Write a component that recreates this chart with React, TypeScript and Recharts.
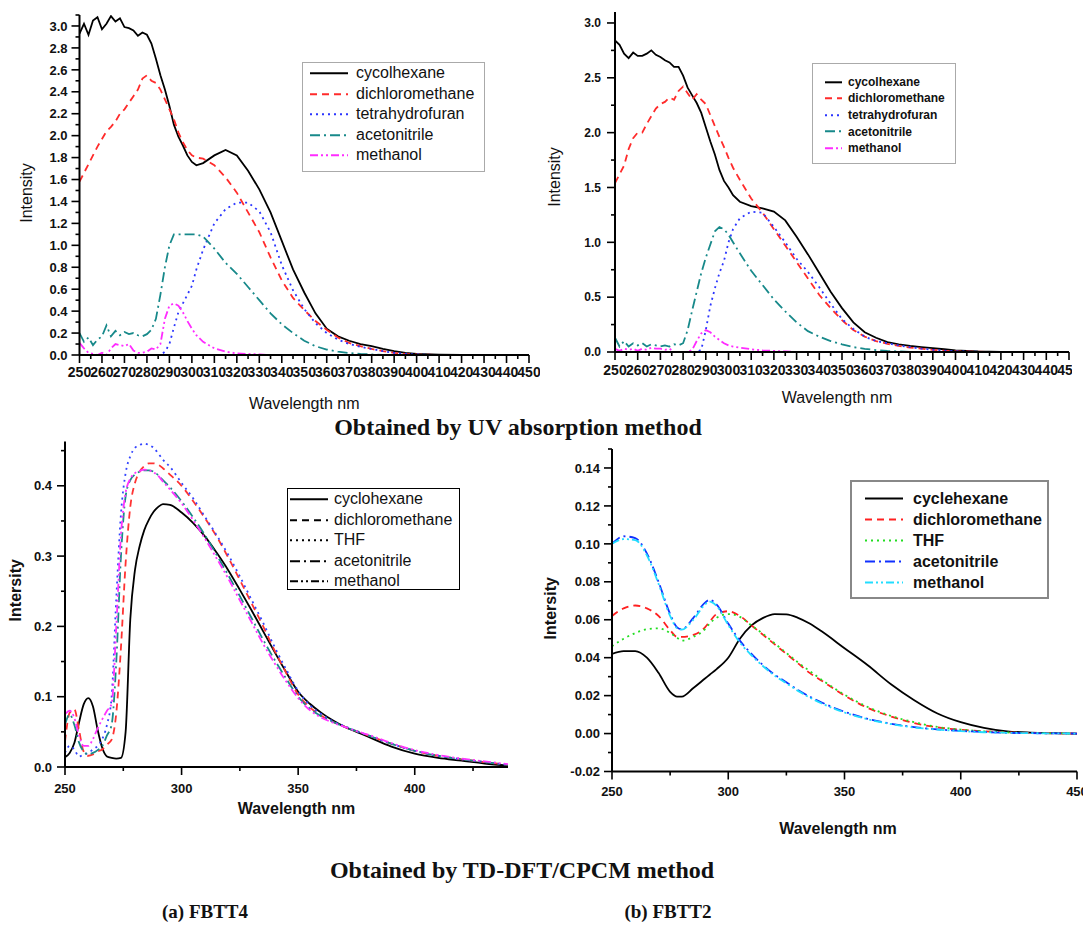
import React from "react";
import { LineChart, Line, XAxis, YAxis, Legend } from "recharts";

// ---------- UV absorption, FBTT4 (top left) ----------
const wlA = [250, 252, 254, 256, 258, 260, 262, 264, 266, 268, 270, 272, 274, 276, 278, 280, 282, 284, 286, 288, 290, 292, 294, 296, 298, 300, 302,
  305, 310, 315, 320, 325, 330, 335, 340, 345, 350, 355, 360, 365, 370, 375, 380, 385, 390, 395, 400, 410, 420, 430, 440, 450];
const cycA = [2.93, 3.02, 2.92, 3.05, 3.08, 2.97, 3.02, 3.09, 3.04, 3.07, 2.99, 2.98, 2.96, 2.91, 2.94, 2.92, 2.84, 2.7, 2.55, 2.42, 2.27, 2.1, 1.99, 1.91, 1.82, 1.76, 1.73,
  1.75, 1.82, 1.87, 1.82, 1.68, 1.51, 1.3, 1.04, 0.78, 0.57, 0.38, 0.24, 0.17, 0.13, 0.1, 0.08, 0.055, 0.035, 0.02, 0.01, 0.004, 0, 0, 0, 0];
const dcmA = [1.58, 1.66, 1.74, 1.82, 1.9, 1.97, 2.04, 2.08, 2.13, 2.2, 2.24, 2.3, 2.36, 2.42, 2.52, 2.55, 2.5, 2.48, 2.42, 2.33, 2.24, 2.15, 2.03, 1.94, 1.87, 1.82, 1.8,
  1.79, 1.73, 1.62, 1.48, 1.3, 1.12, 0.89, 0.68, 0.52, 0.41, 0.31, 0.23, 0.16, 0.11, 0.08, 0.055, 0.035, 0.02, 0.01, 0.005, 0, 0, 0, 0, 0];
const thfA = [0, 0, 0, 0, 0, 0, 0, 0, 0, 0, 0, 0, 0, 0, 0, 0, 0, 0, 0, 0.03, 0.1, 0.25, 0.39, 0.47, 0.55, 0.63, 0.78,
  0.96, 1.2, 1.33, 1.39, 1.39, 1.31, 1.12, 0.82, 0.59, 0.42, 0.29, 0.2, 0.14, 0.1, 0.075, 0.055, 0.035, 0.02, 0.01, 0.005, 0, 0, 0, 0, 0];
const acnA = [0.2, 0.12, 0.16, 0.09, 0.14, 0.17, 0.27, 0.17, 0.22, 0.18, 0.21, 0.19, 0.2, 0.18, 0.17, 0.19, 0.23, 0.33, 0.55, 0.8, 1.0, 1.1, 1.1, 1.1, 1.1, 1.1, 1.1,
  1.08, 0.97, 0.84, 0.74, 0.62, 0.5, 0.38, 0.28, 0.2, 0.13, 0.08, 0.05, 0.03, 0.018, 0.01, 0.005, 0, 0, 0, 0, 0, 0, 0, 0, 0];
const meA = [0.11, 0.06, 0.02, 0.01, 0, 0.02, 0, 0.06, 0.1, 0.09, 0.08, 0.1, 0.04, 0.02, 0.02, 0.03, 0.06, 0.05, 0.1, 0.33, 0.45, 0.47, 0.45, 0.39, 0.31, 0.24, 0.18,
  0.12, 0.06, 0.03, 0.015, 0.01, 0.005, 0, 0, 0, 0, 0, 0, 0, 0, 0, 0, 0, 0, 0, 0, 0, 0, 0, 0, 0];

// ---------- UV absorption, FBTT2 (top right) ----------
const wlB = wlA;
const cycB = [2.84, 2.8, 2.72, 2.68, 2.73, 2.7, 2.7, 2.72, 2.75, 2.71, 2.69, 2.66, 2.64, 2.6, 2.6, 2.52, 2.41, 2.34, 2.27, 2.18, 2.05, 1.92, 1.8, 1.66, 1.56, 1.5, 1.43,
  1.37, 1.33, 1.31, 1.28, 1.2, 1.05, 0.89, 0.72, 0.55, 0.4, 0.27, 0.18, 0.13, 0.09, 0.07, 0.055, 0.045, 0.035, 0.025, 0.015, 0.005, 0.002, 0, 0, 0];
const dcmB = [1.54, 1.62, 1.7, 1.85, 1.95, 2.0, 2.0, 2.08, 2.15, 2.22, 2.26, 2.28, 2.32, 2.3, 2.38, 2.42, 2.36, 2.3, 2.35, 2.3, 2.26, 2.16, 2.06, 1.96, 1.87, 1.77, 1.68,
  1.57, 1.4, 1.27, 1.12, 0.97, 0.82, 0.67, 0.52, 0.4, 0.29, 0.2, 0.14, 0.1, 0.075, 0.055, 0.04, 0.03, 0.02, 0.012, 0.007, 0.003, 0, 0, 0, 0];
const thfB = [0, 0, 0, 0, 0, 0, 0, 0, 0, 0, 0, 0, 0, 0, 0, 0, 0, 0, 0, 0.02, 0.2, 0.42, 0.58, 0.72, 0.83, 1.0, 1.12,
  1.22, 1.28, 1.27, 1.14, 1.0, 0.85, 0.73, 0.59, 0.44, 0.3, 0.21, 0.14, 0.1, 0.08, 0.06, 0.045, 0.03, 0.02, 0.012, 0.007, 0.002, 0, 0, 0, 0];
const acnB = [0.13, 0.05, 0.1, 0.05, 0.08, 0.06, 0.08, 0.05, 0.07, 0.06, 0.05, 0.06, 0.05, 0.07, 0.06, 0.08, 0.2, 0.38, 0.55, 0.72, 0.86, 0.98, 1.1, 1.14, 1.12, 1.07, 1.0,
  0.9, 0.74, 0.61, 0.48, 0.37, 0.27, 0.19, 0.14, 0.1, 0.07, 0.045, 0.028, 0.018, 0.01, 0.005, 0, 0, 0, 0, 0, 0, 0, 0, 0, 0];
const meB = [0.03, 0.01, 0.03, 0.02, 0.03, 0.01, 0.03, 0.02, 0.04, 0.03, 0.03, 0.02, 0.03, 0, 0, 0, 0, 0.02, 0.1, 0.17, 0.2, 0.18, 0.14, 0.11, 0.08, 0.06, 0.05,
  0.04, 0.025, 0.015, 0.01, 0.005, 0, 0, 0, 0, 0, 0, 0, 0, 0, 0, 0, 0, 0, 0, 0, 0, 0, 0, 0, 0];

// ---------- TD-DFT/CPCM, FBTT4 (bottom left) ----------
const wlC = [250, 252, 254, 256, 258, 260, 262, 264, 266, 268, 270, 272, 274, 276, 278, 280, 282, 284, 286, 288, 290, 292,
  295, 300, 305, 310, 315, 320, 325, 330, 335, 340, 345, 350, 355, 360, 365, 370, 375, 380, 390, 400, 410, 420, 430, 440];
const cycC = [0.014, 0.02, 0.034, 0.063, 0.089, 0.098, 0.086, 0.053, 0.027, 0.015, 0.013, 0.012, 0.013, 0.05, 0.21, 0.28, 0.314, 0.337, 0.352, 0.363, 0.37, 0.374,
  0.373, 0.362, 0.347, 0.328, 0.305, 0.28, 0.252, 0.223, 0.193, 0.163, 0.134, 0.107, 0.09, 0.077, 0.066, 0.057, 0.05, 0.043, 0.029, 0.019, 0.013, 0.009, 0.005, 0.002];
const dcmC = [0.036, 0.077, 0.082, 0.053, 0.022, 0.016, 0.018, 0.022, 0.025, 0.032, 0.039, 0.077, 0.17, 0.29, 0.37, 0.404, 0.42, 0.428, 0.432, 0.432, 0.43, 0.425,
  0.416, 0.4, 0.378, 0.354, 0.328, 0.298, 0.266, 0.233, 0.2, 0.165, 0.133, 0.103, 0.085, 0.073, 0.064, 0.057, 0.051, 0.045, 0.033, 0.023, 0.016, 0.011, 0.007, 0.003];
const thfC = [0.02, 0.03, 0.025, 0.015, 0.018, 0.02, 0.025, 0.03, 0.04, 0.06, 0.1, 0.24, 0.36, 0.418, 0.442, 0.454, 0.458, 0.46, 0.458, 0.454, 0.446, 0.437,
  0.427, 0.404, 0.382, 0.356, 0.33, 0.302, 0.271, 0.238, 0.205, 0.17, 0.138, 0.108, 0.088, 0.075, 0.065, 0.058, 0.051, 0.045, 0.033, 0.023, 0.016, 0.011, 0.007, 0.003];
const acnC = [0.06, 0.075, 0.06, 0.035, 0.022, 0.018, 0.02, 0.024, 0.03, 0.045, 0.06, 0.15, 0.3, 0.385, 0.408, 0.416, 0.42, 0.422, 0.422, 0.42, 0.415, 0.408,
  0.398, 0.378, 0.355, 0.33, 0.302, 0.273, 0.243, 0.212, 0.181, 0.152, 0.125, 0.1, 0.083, 0.072, 0.064, 0.057, 0.051, 0.045, 0.033, 0.023, 0.016, 0.011, 0.007, 0.003];
const meC = [0.075, 0.08, 0.07, 0.045, 0.03, 0.03, 0.04, 0.055, 0.068, 0.08, 0.09, 0.2, 0.33, 0.39, 0.41, 0.418, 0.421, 0.423, 0.422, 0.419, 0.414, 0.406,
  0.395, 0.375, 0.351, 0.325, 0.297, 0.268, 0.237, 0.206, 0.175, 0.147, 0.121, 0.098, 0.081, 0.07, 0.063, 0.057, 0.051, 0.046, 0.034, 0.024, 0.017, 0.012, 0.008, 0.004];

// ---------- TD-DFT/CPCM, FBTT2 (bottom right) ----------
const wlD = [250, 255, 260, 265, 270, 275, 278, 280, 285, 290, 292, 295, 300, 305, 310, 315, 320, 325, 330, 335, 340, 350, 360, 370, 380, 390, 400, 410, 420, 430, 440, 450];
const cycD = [0.042, 0.0435, 0.0435, 0.04, 0.032, 0.022, 0.0195, 0.0195, 0.024, 0.029, 0.031, 0.034, 0.04, 0.05, 0.057, 0.061, 0.063, 0.0628, 0.061, 0.058, 0.054,
  0.045, 0.036, 0.026, 0.0176, 0.0106, 0.006, 0.003, 0.0012, 0.0005, 0.0002, 0];
const dcmD = [0.062, 0.066, 0.0675, 0.066, 0.062, 0.0545, 0.051, 0.051, 0.052, 0.056, 0.059, 0.063, 0.0645, 0.062, 0.057, 0.052, 0.047, 0.042, 0.037, 0.032, 0.028,
  0.02, 0.0135, 0.009, 0.0055, 0.0033, 0.002, 0.0012, 0.0006, 0.0003, 0.0001, 0];
const thfD = [0.046, 0.05, 0.053, 0.055, 0.0555, 0.053, 0.0505, 0.049, 0.051, 0.055, 0.058, 0.061, 0.063, 0.0615, 0.057, 0.0525, 0.0475, 0.0425, 0.0375, 0.033, 0.0285,
  0.0205, 0.014, 0.0093, 0.006, 0.0035, 0.0021, 0.0012, 0.0006, 0.0003, 0.0001, 0];
const acnD = [0.1, 0.104, 0.103, 0.095, 0.08, 0.063, 0.056, 0.055, 0.061, 0.069, 0.0705, 0.068, 0.058, 0.049, 0.042, 0.036, 0.031, 0.027, 0.023, 0.0195, 0.0165,
  0.0115, 0.0078, 0.0052, 0.0034, 0.0022, 0.0014, 0.0008, 0.0004, 0.0002, 0.0001, 0];
const meD = [0.1, 0.1025, 0.102, 0.094, 0.079, 0.062, 0.0555, 0.0548, 0.06, 0.068, 0.0695, 0.0672, 0.0572, 0.048, 0.0412, 0.0355, 0.0305, 0.0265, 0.0225, 0.019, 0.016,
  0.0111, 0.0075, 0.005, 0.0032, 0.0021, 0.0013, 0.0007, 0.0004, 0.0002, 0.0001, 0];

// ---------- ticks ----------
const xMajorUV = [250, 260, 270, 280, 290, 300, 310, 320, 330, 340, 350, 360, 370, 380, 390, 400, 410, 420, 430, 440, 450];
const xMinorUV = [255, 265, 275, 285, 295, 305, 315, 325, 335, 345, 355, 365, 375, 385, 395, 405, 415, 425, 435, 445];
const yMajorA = [0, 0.2, 0.4, 0.6, 0.8, 1.0, 1.2, 1.4, 1.6, 1.8, 2.0, 2.2, 2.4, 2.6, 2.8, 3.0];
const yMinorA = [0.1, 0.3, 0.5, 0.7, 0.9, 1.1, 1.3, 1.5, 1.7, 1.9, 2.1, 2.3, 2.5, 2.7, 2.9, 3.1];
const yMajorB = [0, 0.5, 1.0, 1.5, 2.0, 2.5, 3.0];
const yMinorB = [0.25, 0.75, 1.25, 1.75, 2.25, 2.75];
const xMajorC = [250, 300, 350, 400];
const xMajorD = [250, 300, 350, 400, 450];
const xMinorTD = [275, 325, 375, 425];
const yMajorC = [0, 0.1, 0.2, 0.3, 0.4];
const yMinorC = [0.05, 0.15, 0.25, 0.35, 0.45];
const yMajorD = [-0.02, 0, 0.02, 0.04, 0.06, 0.08, 0.1, 0.12, 0.14];
const yMinorD = [-0.01, 0.01, 0.03, 0.05, 0.07, 0.09, 0.11, 0.13, 0.15];

const SANS = "'Liberation Sans', Arial, Helvetica, sans-serif";
const SERIF = "'Liberation Serif', 'Times New Roman', Times, serif";

type Ser = { key: string; name: string; color: string; dash?: string; values: number[] };

const rows = (x: number[], series: Ser[]) =>
  x.map((w, i) => {
    const r: Record<string, number> = { w };
    series.forEach((s) => (r[s.key] = s.values[i]));
    return r;
  });

const near = (list: number[], v: number) => list.some((m) => Math.abs(m - v) < 1e-6);
const merge = (a: number[], b: number[]) => [...a, ...b].sort((p, q) => p - q);

function xTick(majors: number[], fmt: (v: number) => string, fs: number, gap: number) {
  return (p: any) => {
    const v = p.payload.value;
    const major = near(majors, v);
    return (
      <g>
        <line x1={p.x} x2={p.x} y1={p.y} y2={p.y + (major ? 8 : 4)} stroke="#000" strokeWidth={1.6} />
        {major && (
          <text x={p.x} y={p.y + gap} textAnchor="middle" fontSize={fs} fontWeight="bold" fontFamily={SANS} fill="#111">
            {fmt(v)}
          </text>
        )}
      </g>
    );
  };
}

function yTick(majors: number[], fmt: (v: number) => string, fs: number, gap: number) {
  return (p: any) => {
    const v = p.payload.value;
    const major = near(majors, v);
    return (
      <g>
        <line x1={p.x} x2={p.x - (major ? 8 : 4)} y1={p.y} y2={p.y} stroke="#000" strokeWidth={1.6} />
        {major && (
          <text x={p.x - gap} y={p.y} dy="0.36em" textAnchor="end" fontSize={fs} fontWeight="bold" fontFamily={SANS} fill="#111">
            {fmt(v)}
          </text>
        )}
      </g>
    );
  };
}

type LegendSpec = {
  left: number; top: number; w: number; h: number; border: string; padTop: number; padLeft: number;
  sampleW: number; gap: number; rowH: number; fs: number; bold?: boolean; mono?: boolean;
};

function LegendBox({ series, spec }: { series: Ser[]; spec: LegendSpec }) {
  return (
    <div style={{ boxSizing: "border-box", width: spec.w, height: spec.h, border: spec.border, background: "#fff", paddingTop: spec.padTop, paddingLeft: spec.padLeft }}>
      {series.map((s) => (
        <div key={s.key} style={{ display: "flex", alignItems: "center", height: spec.rowH }}>
          <svg width={spec.sampleW} height={spec.rowH} style={{ flex: "none" }}>
            <line x1={0} x2={spec.sampleW} y1={spec.rowH / 2} y2={spec.rowH / 2}
              stroke={spec.mono ? "#000" : s.color} strokeWidth={2} strokeDasharray={s.dash} />
          </svg>
          <span style={{ marginLeft: spec.gap, fontFamily: SANS, fontSize: spec.fs, fontWeight: spec.bold ? "bold" : "normal", color: "#111", whiteSpace: "nowrap", lineHeight: 1 }}>
            {s.name}
          </span>
        </div>
      ))}
    </div>
  );
}

type PanelProps = {
  left: number; top: number; clipW: number; w: number; h: number; mt: number; mr: number;
  x: number[]; series: Ser[]; curve: "linear" | "monotone";
  xDomain: [number, number]; xMajor: number[]; xMinor: number[]; xH: number; xFs: number; xGap: number; xFmt: (v: number) => string;
  yDomain: [number, number]; yMajor: number[]; yMinor: number[]; yW: number; yFs: number; yGap: number; yFmt: (v: number) => string;
  xLab: { off: number; dx: number }; yLab: { text: string; off: number; dy: number };
  boldTitles: boolean; legend: LegendSpec;
};

function Panel(p: PanelProps) {
  const data = rows(p.x, p.series);
  const weight = p.boldTitles ? "bold" : "normal";
  return (
    <div style={{ position: "absolute", left: p.left, top: p.top, width: p.clipW, height: p.h, overflow: "hidden" }}>
      <LineChart width={p.w} height={p.h} data={data} margin={{ top: p.mt, right: p.mr, bottom: 0, left: 0 }}>
        <XAxis dataKey="w" type="number" domain={p.xDomain} ticks={merge(p.xMajor, p.xMinor)} interval={0} allowDataOverflow
          height={p.xH} tickSize={0} tickMargin={0} tickLine={false} axisLine={{ stroke: "#000", strokeWidth: 2 }}
          tick={xTick(p.xMajor, p.xFmt, p.xFs, p.xGap)}
          label={{ value: "Wavelength nm", position: "insideBottom", offset: p.xLab.off, dx: p.xLab.dx, fontSize: 16, fontWeight: weight, fontFamily: SANS, fill: "#111" }} />
        <YAxis type="number" domain={p.yDomain} ticks={merge(p.yMajor, p.yMinor)} interval={0} allowDataOverflow
          width={p.yW} tickSize={0} tickMargin={0} tickLine={false} axisLine={{ stroke: "#000", strokeWidth: 2 }}
          tick={yTick(p.yMajor, p.yFmt, p.yFs, p.yGap)}
          label={{ value: p.yLab.text, angle: -90, position: "insideLeft", offset: p.yLab.off, dy: p.yLab.dy, fontSize: 16, fontWeight: weight, fontFamily: SANS, fill: "#111", style: { textAnchor: "middle" } }} />
        {p.series.map((s) => (
          <Line key={s.key} dataKey={s.key} name={s.name} type={p.curve} stroke={s.color} strokeWidth={1.8}
            strokeDasharray={s.dash} dot={false} activeDot={false} isAnimationActive={false} />
        ))}
        <Legend layout="vertical" align="center" verticalAlign="middle"
          wrapperStyle={{ left: p.legend.left, top: p.legend.top, width: p.legend.w, height: p.legend.h }}
          content={() => <LegendBox series={p.series} spec={p.legend} />} />
      </LineChart>
    </div>
  );
}

const f1 = (v: number) => v.toFixed(1);
const f2 = (v: number) => v.toFixed(2);
const f0 = (v: number) => String(v);

const DASH = "7 5";
const DOT = "2 4";
const DASHDOT = "10 4 2 4";
const DASHDOTDOT = "8 3 2 3 2 3";

const serA: Ser[] = [
  { key: "cyc", name: "cycolhexane", color: "#000000", values: cycA },
  { key: "dcm", name: "dichloromethane", color: "#ff2b2b", dash: DASH, values: dcmA },
  { key: "thf", name: "tetrahydrofuran", color: "#2b35ff", dash: DOT, values: thfA },
  { key: "acn", name: "acetonitrile", color: "#17898a", dash: DASHDOT, values: acnA },
  { key: "me", name: "methanol", color: "#ff2cff", dash: DASHDOTDOT, values: meA },
];
const serB: Ser[] = [
  { key: "cyc", name: "cycolhexane", color: "#000000", values: cycB },
  { key: "dcm", name: "dichloromethane", color: "#ff2b2b", dash: DASH, values: dcmB },
  { key: "thf", name: "tetrahydrofuran", color: "#2b35ff", dash: DOT, values: thfB },
  { key: "acn", name: "acetonitrile", color: "#17898a", dash: DASHDOT, values: acnB },
  { key: "me", name: "methanol", color: "#ff2cff", dash: DASHDOTDOT, values: meB },
];
const serC: Ser[] = [
  { key: "cyc", name: "cyclohexane", color: "#000000", values: cycC },
  { key: "dcm", name: "dichloromethane", color: "#ff3333", dash: DASH, values: dcmC },
  { key: "thf", name: "THF", color: "#3344ff", dash: DOT, values: thfC },
  { key: "acn", name: "acetonitrile", color: "#1a8a8a", dash: DASHDOT, values: acnC },
  { key: "me", name: "methanol", color: "#ff33ff", dash: DASHDOTDOT, values: meC },
];
const serD: Ser[] = [
  { key: "cyc", name: "cyclehexane", color: "#000000", values: cycD },
  { key: "dcm", name: "dichloromethane", color: "#ff2020", dash: DASH, values: dcmD },
  { key: "thf", name: "THF", color: "#22dd22", dash: DOT, values: thfD },
  { key: "acn", name: "acetonitrile", color: "#1030ff", dash: DASHDOT, values: acnD },
  { key: "me", name: "methanol", color: "#22ddff", dash: DASHDOTDOT, values: meD },
];

const caption = (text: string, cx: number, cy: number, fs: number) => (
  <div style={{ position: "absolute", left: cx - 300, top: cy - fs * 0.6, width: 600, textAlign: "center", fontFamily: SERIF, fontWeight: "bold", fontSize: fs, lineHeight: `${fs * 1.2}px`, color: "#111", whiteSpace: "nowrap" }}>
    {text}
  </div>
);

export default function App() {
  return (
    <div style={{ position: "absolute", left: 0, top: 0, width: 1083, height: 926, overflow: "hidden", background: "#fff" }}>
      <Panel left={0} top={0} clipW={540} w={545} h={420} mt={15} mr={16}
        x={wlA} series={serA} curve="linear"
        xDomain={[250, 450]} xMajor={xMajorUV} xMinor={xMinorUV} xH={65} xFs={14} xGap={22} xFmt={f0}
        yDomain={[0, 3.1]} yMajor={yMajorA} yMinor={yMinorA} yW={79.5} yFs={13} yGap={12} yFmt={f1}
        xLab={{ off: 11.5, dx: 0 }} yLab={{ text: "Intensity", off: 26.7, dy: 8 }} boldTitles={false}
        legend={{ left: 302, top: 62, w: 183, h: 110, border: "1.5px solid #aaa", padTop: 0, padLeft: 7, sampleW: 38, gap: 8, rowH: 20.5, fs: 16 }} />
      <Panel left={540} top={0} clipW={532} w={545} h={420} mt={12} mr={16}
        x={wlB} series={serB} curve="linear"
        xDomain={[250, 450]} xMajor={xMajorUV} xMinor={xMinorUV} xH={68} xFs={14} xGap={22.5} xFmt={f0}
        yDomain={[0, 3.1]} yMajor={yMajorB} yMinor={yMinorB} yW={75} yFs={12} yGap={14} yFmt={f1}
        xLab={{ off: 17.5, dx: -5 }} yLab={{ text: "Intensity", off: 14, dy: -5 }} boldTitles={false}
        legend={{ left: 272, top: 63, w: 144, h: 101, border: "1.5px solid #aaa", padTop: 9.5, padLeft: 12, sampleW: 17, gap: 6, rowH: 16.6, fs: 12, bold: true }} />
      <Panel left={0} top={430} clipW={540} w={540} h={400} mt={11.5} mr={32}
        x={wlC} series={serC} curve="monotone"
        xDomain={[250, 440]} xMajor={xMajorC} xMinor={xMinorTD} xH={63} xFs={13} xGap={25.5} xFmt={f0}
        yDomain={[0, 0.463]} yMajor={yMajorC} yMinor={yMinorC} yW={65} yFs={13} yGap={13} yFmt={f1}
        xLab={{ off: 16.5, dx: 10 }} yLab={{ text: "Intersity", off: 15, dy: -14 }} boldTitles={true}
        legend={{ left: 287, top: 58, w: 173, h: 102, border: "1.5px solid #000", padTop: 0, padLeft: 2, sampleW: 38, gap: 6, rowH: 20.5, fs: 16, mono: true }} />
      <Panel left={540} top={430} clipW={543} w={543} h={410} mt={19} mr={6}
        x={wlD} series={serD} curve="monotone"
        xDomain={[250, 450]} xMajor={xMajorD} xMinor={xMinorTD} xH={68.5} xFs={13} xGap={24.5} xFmt={f0}
        yDomain={[-0.02, 0.15]} yMajor={yMajorD} yMinor={yMinorD} yW={72} yFs={13} yGap={12} yFmt={f2}
        xLab={{ off: 6.5, dx: -6.5 }} yLab={{ text: "Intersity", off: 10, dy: -2 }} boldTitles={true}
        legend={{ left: 310, top: 50, w: 199, h: 119, border: "2px solid #888", padTop: 6, padLeft: 13, sampleW: 38, gap: 10, rowH: 21, fs: 16, bold: true }} />
      {caption("Obtained by UV absorption method", 518, 427, 24)}
      {caption("Obtained by TD-DFT/CPCM method", 522, 870, 24)}
      {caption("(a) FBTT4", 205, 912, 19)}
      {caption("(b) FBTT2", 668, 912, 19)}
    </div>
  );
}
